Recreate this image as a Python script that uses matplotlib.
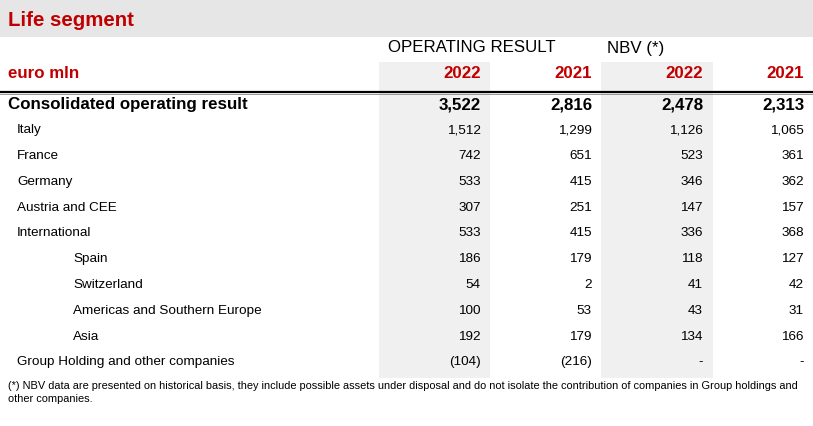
import matplotlib.pyplot as plt
from matplotlib.patches import Rectangle

# table content
row_labels = ['Consolidated operating result', 'Italy', 'France', 'Germany',
              'Austria and CEE', 'International', 'Spain', 'Switzerland',
              'Americas and Southern Europe', 'Asia',
              'Group Holding and other companies']
indent = [0, 1, 1, 1, 1, 1, 2, 2, 2, 2, 1]
op_2022 = ['3,522', '1,512', '742', '533', '307', '533', '186', '54', '100', '192', '(104)']
op_2021 = ['2,816', '1,299', '651', '415', '251', '415', '179', '2', '53', '179', '(216)']
nbv_2022 = ['2,478', '1,126', '523', '346', '147', '336', '118', '41', '43', '134', '-']
nbv_2021 = ['2,313', '1,065', '361', '362', '157', '368', '127', '42', '31', '166', '-']
years = ['2022', '2021', '2022', '2021']
footnote = ('(*) NBV data are presented on historical basis, they include possible assets under disposal '
            'and do not isolate the contribution of companies in Group holdings and\nother companies.')

RED = '#c00000'
W, H = 813, 427

plt.rcParams['font.family'] = ['Liberation Sans', 'DejaVu Sans']

fig = plt.figure(figsize=(W / 100, H / 100), dpi=100)
ax = fig.add_axes([0, 0, 1, 1])
ax.set_xlim(0, W)
ax.set_ylim(H, 0)
ax.axis('off')

# title band
ax.add_patch(Rectangle((0, 0), W, 38, color='#e6e6e6', lw=0))
ax.text(8, 20, 'Life segment', color=RED, fontsize=14.7, fontweight='bold', va='center')

# shaded columns
for x0, x1 in [(379, 490), (601, 713)]:
    ax.add_patch(Rectangle((x0, 63), x1 - x0, 316, color='#f0f0f0', lw=0))

# headers
ax.text(388, 48, 'OPERATING RESULT', fontsize=12.2, va='center')
ax.text(607, 48, 'NBV (*)', fontsize=12.2, va='center')
ax.text(8, 74, 'euro mln', color=RED, fontsize=12.2, fontweight='bold', va='center')
col_right = [481, 592, 703, 804]
for x, yr in zip(col_right, years):
    ax.text(x, 74, yr, color=RED, fontsize=12.2, fontweight='bold', va='center', ha='right')

ax.plot([0, W], [92.5, 92.5], color='black', lw=1.6)
ax.plot([0, W], [95, 95], color='#888888', lw=0.6)

# rows
y0, dy = 104.5, 25.8
indent_x = [8, 17, 73]
for i, label in enumerate(row_labels):
    y = y0 + i * dy
    bold = i == 0
    fs = 12.2 if bold else 9.7
    fw = 'bold' if bold else 'normal'
    ax.text(indent_x[indent[i]], y, label, fontsize=fs, fontweight=fw, va='center')
    for x, col in zip(col_right, [op_2022, op_2021, nbv_2022, nbv_2021]):
        ax.text(x, y, col[i], fontsize=fs, fontweight=fw, va='center', ha='right')

ax.text(8, 381, footnote, fontsize=7.9, va='top', linespacing=1.4,
        family=['Liberation Sans Narrow', 'Liberation Sans', 'DejaVu Sans'])

fig.savefig('out.png', dpi=100)
